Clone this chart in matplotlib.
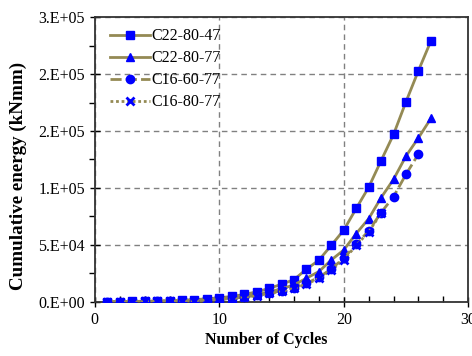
import math
import matplotlib
matplotlib.use('Agg')
from matplotlib import pyplot as plt
from matplotlib.ticker import MultipleLocator, FuncFormatter

# データ
cycles_27 = list(range(1, 28))
cycles_26 = list(range(1, 27))
cycles_23 = list(range(1, 24))

c22_80_47 = [100, 250, 400, 600, 800, 1100, 1500, 2000, 2700, 3600, 4800, 6500, 8800,
             11800, 15500, 19500, 28700, 36600, 49700, 63000, 82000, 100600, 124000,
             147000, 175700, 203000, 229000]
c22_80_77 = [80, 180, 300, 430, 580, 780, 1000, 1300, 1800, 2500, 3400, 4800, 6500,
             8800, 11500, 14900, 20800, 26600, 36800, 45600, 60000, 73000, 91500,
             107600, 128000, 144000, 161000]
c16_60_77 = [70, 160, 260, 380, 520, 700, 900, 1200, 1600, 2200, 3000, 4200, 5800,
             7800, 9800, 12500, 16300, 21500, 29000, 38300, 50600, 62300, 78400,
             92400, 112000, 129800]
c16_80_77 = [60, 150, 240, 360, 500, 680, 870, 1150, 1550, 2100, 2900, 4000, 5500,
             7400, 9300, 12000, 15600, 20700, 28000, 37000, 49500, 61500, 77800]

labels = ['C22-80-47', 'C22-80-77', 'C16-60-77', 'C16-80-77']

plt.rcParams['font.family'] = 'Liberation Serif'
plt.rcParams['font.size'] = 11.5

line_c = '#948A54'
mk_c = '#0000FF'


# Excel風の指数表記 (四捨五入)
def excel_fmt(v, pos):
    if v == 0:
        return '0.E+00'
    e = int(math.floor(math.log10(abs(v))))
    m = int(math.floor(v / 10 ** e + 0.5))
    if m >= 10:
        m = 1
        e += 1
    return '%d.E+%02d' % (m, e)


fig = plt.figure(figsize=(4.72, 3.56), dpi=100)
ax = fig.add_axes([0.201, 0.152, 0.791, 0.8])

ax.plot(cycles_27, c22_80_47, color=line_c, lw=2, ls='-', marker='s', ms=5.5,
        mfc=mk_c, mec=mk_c, label=labels[0], zorder=3)
ax.plot(cycles_27, c22_80_77, color=line_c, lw=2, ls='-', marker='^', ms=6,
        mfc=mk_c, mec=mk_c, label=labels[1], zorder=3)
ax.plot(cycles_26, c16_60_77, color=line_c, lw=2, ls=(0, (4, 1.5)), marker='o', ms=6,
        mfc=mk_c, mec=mk_c, label=labels[2], zorder=3)
ax.plot(cycles_23, c16_80_77, color=line_c, lw=2, ls=(0, (1, 1)), marker='x', ms=5.5,
        mew=2, mfc=mk_c, mec=mk_c, label=labels[3], zorder=3)

ax.set_xlim(0, 30)
ax.set_ylim(0, 250000)
ax.xaxis.set_major_locator(MultipleLocator(10))
ax.xaxis.set_minor_locator(MultipleLocator(2))
ax.yaxis.set_major_locator(MultipleLocator(50000))
ax.yaxis.set_minor_locator(MultipleLocator(25000))
ax.yaxis.set_major_formatter(FuncFormatter(excel_fmt))

ax.tick_params(axis='both', which='major', direction='inout', length=7, width=1, labelsize=11.5)
ax.tick_params(axis='y', which='minor', direction='out', length=4, width=1)
ax.tick_params(axis='x', which='minor', direction='in', length=4, width=1)

ax.grid(True, which='major', ls=(0, (4, 3)), color='#808080', lw=1)
for s in ax.spines.values():
    s.set_color('#333333')
    s.set_linewidth(1.3)

ax.set_xlabel('Number of Cycles', fontweight='bold', fontsize=11.5, va='center')
ax.xaxis.set_label_coords(0.46, -0.133)
ax.set_ylabel('Cumulative energy (kNmm)', fontweight='bold', fontsize=13.7, va='center')
ax.yaxis.set_label_coords(-0.205, 0.442)

ax.legend(loc='upper left', frameon=False, fontsize=11.5, handlelength=2.5,
          handletextpad=0.1, labelspacing=0.38, borderaxespad=0.3,
          bbox_to_anchor=(0.01, 1.0))

plt.savefig('out.png', dpi=100)
